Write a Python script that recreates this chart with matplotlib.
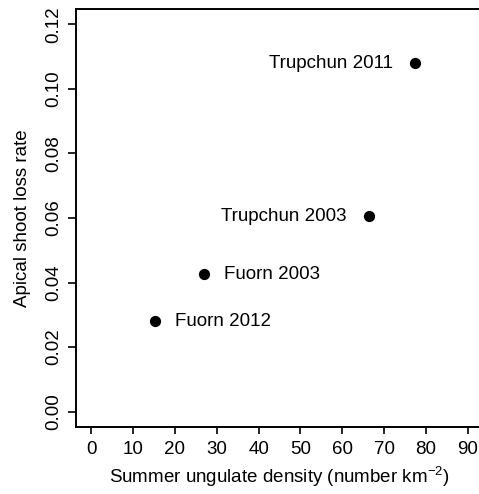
import matplotlib
matplotlib.use("Agg")
import matplotlib.pyplot as plt

plt.rcParams['font.family'] = ['Liberation Sans', 'DejaVu Sans']
plt.rcParams['mathtext.fontset'] = 'custom'
plt.rcParams['mathtext.rm'] = 'Liberation Sans'
plt.rcParams['mathtext.it'] = 'Liberation Sans:italic'

# dados
locais = ["Trupchun 2011", "Trupchun 2003", "Fuorn 2003", "Fuorn 2012"]
densidade = [77.4, 66.3, 26.9, 15.3]
perda = [0.108, 0.0605, 0.0425, 0.028]
lado = ["left", "left", "right", "right"]

xticks = [0, 10, 20, 30, 40, 50, 60, 70, 80, 90]
yticks = [0.00, 0.02, 0.04, 0.06, 0.08, 0.10, 0.12]

fs = 13.5

fig = plt.figure(figsize=(4.79, 4.94), dpi=100)
ax = fig.add_axes([76 / 479, (494 - 427) / 494, (483 - 76) / 479, (427 - 9) / 494])

ax.scatter(densidade, perda, s=50, color="black", zorder=3, clip_on=False)

for nome, x, y, l in zip(locais, densidade, perda, lado):
    if l == "left":
        ax.annotate(nome, (x, y), xytext=(-16, 0), textcoords="offset points",
                    ha="right", va="center", fontsize=fs)
    else:
        ax.annotate(nome, (x, y), xytext=(14.5, 0), textcoords="offset points",
                    ha="left", va="center", fontsize=fs)

ax.set_xlim(-3.6, 93.6)
ax.set_ylim(-0.0048, 0.1248)
ax.set_xticks(xticks)
ax.set_yticks(yticks)
ax.set_xticklabels([str(t) for t in xticks], fontsize=fs)
ax.set_yticklabels(["%.2f" % t for t in yticks], fontsize=fs, rotation=90, va="center")

ax.tick_params(axis="x", length=5, width=1.2, pad=5)
ax.tick_params(axis="y", length=6, width=1.2, pad=4)
for s in ax.spines.values():
    s.set_linewidth(1.4)

ax.set_xlabel("Summer ungulate density (number km$^{-2}$)", fontsize=fs, labelpad=5)
ax.set_ylabel("Apical shoot loss rate", fontsize=fs, labelpad=10.5)

fig.savefig("out.png", dpi=100)
